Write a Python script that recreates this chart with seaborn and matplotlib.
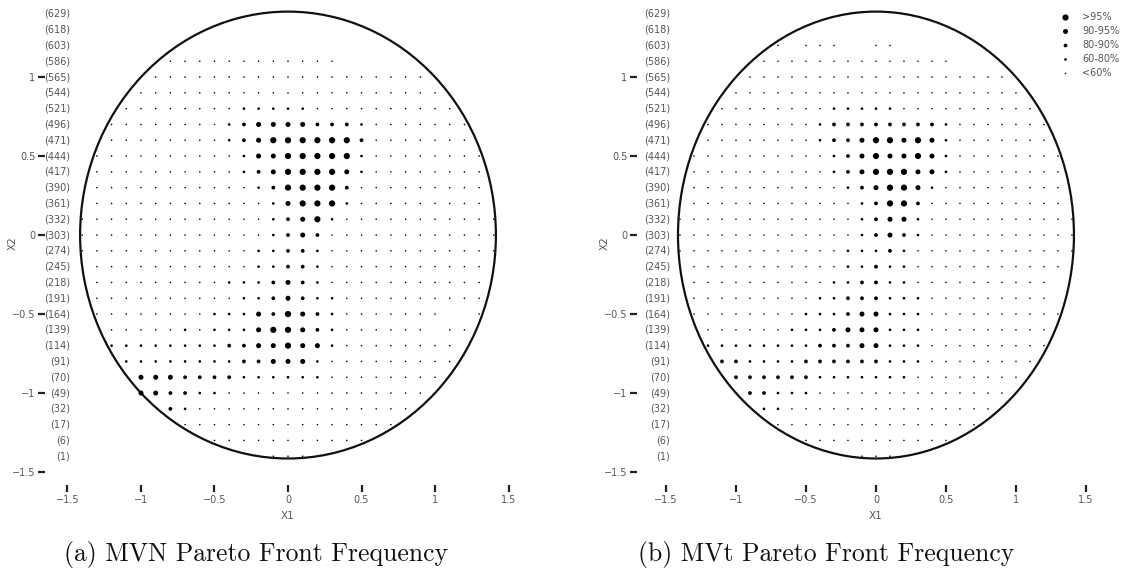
import numpy as np
import pandas as pd
import matplotlib
matplotlib.use("Agg")
import matplotlib.pyplot as plt
import seaborn as sns
from matplotlib.patches import Circle
from matplotlib.lines import Line2D

sns.set_theme(style="white")
plt.rcParams["font.family"] = ["DejaVu Sans"]
plt.rcParams["axes.unicode_minus"] = True

# grid of candidate points (step 0.1) inside the circle x1^2 + x2^2 <= 2
X1_GRID = [-1.4, -1.3, -1.2, -1.1, -1.0, -0.9, -0.8, -0.7, -0.6, -0.5,
           -0.4, -0.3, -0.2, -0.1, 0.0, 0.1, 0.2, 0.3, 0.4, 0.5,
           0.6, 0.7, 0.8, 0.9, 1.0, 1.1, 1.2, 1.3, 1.4]
X2_ROWS = [1.4, 1.3, 1.2, 1.1, 1.0, 0.9, 0.8, 0.7, 0.6, 0.5,
           0.4, 0.3, 0.2, 0.1, 0.0, -0.1, -0.2, -0.3, -0.4, -0.5,
           -0.6, -0.7, -0.8, -0.9, -1.0, -1.1, -1.2, -1.3, -1.4]
# index of the first grid point in each row (row labels)
ROW_START = [629, 618, 603, 586, 565, 544, 521, 496, 471, 444, 417, 390, 361,
             332, 303, 274, 245, 218, 191, 164, 139, 114, 91, 70, 49, 32, 17,
             6, 1]

# frequency classes, code 1..5 ('.' = never on the front)
LEVELS = ["<60%", "60-80%", "80-90%", "90-95%", ">95%"]

# each row: x1 = -1.4 ... -0.1 | 0 | 0.1 ... 1.4
MVN_ROWS = [
    ".............." "." "..............",
    ".............." "." "..............",
    ".............." "." "..............",
    "......11111111" "1" "111...........",
    ".....111111111" "1" "111111111.....",
    "....1111111111" "1" "1111111111....",
    "...11111111222" "2" "21111111111...",
    "..111111112344" "4" "433321111111..",
    "..111111112345" "5" "555531111111..",
    ".1111111111244" "5" "5555211111111.",
    ".1111111111234" "5" "5554211111111.",
    ".1111111111123" "5" "5553111111111.",
    ".1111111111112" "4" "5552111111111.",
    "11111111111112" "3" "45211111111111",
    "11111111111112" "3" "43111111111111",
    "11111111111122" "3" "32111111111111",
    ".1111111111122" "3" "3211111111111.",
    ".1111111112223" "4" "3211111111111.",
    ".1111111111223" "4" "3221111111111.",
    ".1111111122243" "5" "4321111111..1.",
    "..111112122245" "5" "432111111.11..",
    "..222222223344" "5" "44211111111...",
    "...22222222334" "4" "42111111111...",
    "....4443333222" "2" "2211111111....",
    "....4433221111" "1" "111111111.....",
    "......32111111" "1" "11111111......",
    ".......1111111" "1" "1111111.......",
    ".........11111" "1" "11111.........",
    ".............1" "1" "1.............",
]

MVT_ROWS = [
    ".............." "." "..............",
    ".............." "." "..............",
    ".......1.111.." "1" "1.............",
    "......11111111" "1" "11111.........",
    ".....111111111" "1" "111111111.....",
    "....1111111111" "1" "1111111111....",
    "...11111111222" "2" "21111111111...",
    "..111111112333" "3" "333321111111..",
    "..111111112334" "5" "545421111111..",
    ".1111111111234" "5" "4454211111111.",
    ".1111111111234" "5" "5544211111111.",
    ".1111111111123" "4" "5542111111111.",
    ".1111111111112" "3" "5531111111111.",
    "11111111111112" "3" "44211111111111",
    "11111111111112" "3" "43211111111111",
    "11111111111122" "2" "32111111111111",
    ".1111111111122" "3" "2211111111111.",
    ".1111111111223" "3" "221111111111..",
    ".1111111112233" "3" "222111111111..",
    ".1111111122234" "4" "2221111111111.",
    "..111111222344" "4" "222111111111..",
    "..222222223334" "4" "222111111111..",
    "...33222233333" "3" "22211111111...",
    "....3333332222" "2" "2211111111....",
    "....1332221111" "1" "111111111.....",
    "......22111111" "1" "11111111......",
    ".......1111111" "1" "1111111.......",
    ".........11111" "1" "11111.........",
    ".............1" "1" "1.............",
]

SIZES = {">95%": 20.0, "90-95%": 13.0, "80-90%": 7.5, "60-80%": 3.6, "<60%": 1.3}


def to_frame(rows):
    bad = [k for k, r in enumerate(rows) if len(r) != len(X1_GRID)]
    if bad:
        raise ValueError(f"rows with wrong length: {bad}")
    recs = []
    for x2, row in zip(X2_ROWS, rows):
        for x1, c in zip(X1_GRID, row):
            if c != ".":
                recs.append((x1, x2, LEVELS[int(c) - 1]))
    return pd.DataFrame(recs, columns=["X1", "X2", "freq"])


W, H = 1138, 572
fig = plt.figure(figsize=(W / 100, H / 100), dpi=100)

PANELS = [
    # (rows, left px, right px, x-range, row-label right edge px, caption, caption centre px)
    (MVN_ROWS, 45, 531, (-1.653, 1.653), 70, "(a) MVN Pareto Front Frequency", 256),
    (MVT_ROWS, 637, 1112, (-1.707, 1.686), 670, "(b) MVt Pareto Front Frequency", 826),
]
TOP_PX, BOT_PX = 5, 485
YLIM = (-1.582, 1.456)
TICK_COL = "#555555"

for i, (rows, lpx, rpx, xlim, lab_px, caption, cap_px) in enumerate(PANELS):
    ax = fig.add_axes([lpx / W, 1 - BOT_PX / H, (rpx - lpx) / W, (BOT_PX - TOP_PX) / H])
    df = to_frame(rows)
    sns.scatterplot(data=df, x="X1", y="X2", size="freq", sizes=SIZES,
                    size_order=LEVELS[::-1], color="black", linewidth=0,
                    legend=False, ax=ax, zorder=3)
    ax.add_patch(Circle((0, 0), np.sqrt(2), fill=False, lw=1.6,
                        edgecolor="#111111", zorder=2))
    ax.set_xlim(*xlim)
    ax.set_ylim(*YLIM)
    for sp in ax.spines.values():
        sp.set_visible(False)
    ax.set_xticks([-1.5, -1, -0.5, 0, 0.5, 1, 1.5])
    ax.set_xticklabels(["\u22121.5", "\u22121", "\u22120.5", "0", "0.5", "1", "1.5"])
    ax.set_yticks([-1.5, -1, -0.5, 0, 0.5, 1])
    ax.set_yticklabels(["\u22121.5", "\u22121", "\u22120.5", "0", "0.5", "1"])
    ax.tick_params(axis="both", direction="out", length=5, width=1.6,
                   color="#222222", labelsize=7, labelcolor=TICK_COL, pad=2,
                   bottom=True, left=True)
    ax.set_xlabel("")
    ax.set_ylabel("")
    # row labels: index of first point of each row
    frac = (lab_px - lpx) / (rpx - lpx)
    for y, n in zip(X2_ROWS, ROW_START):
        ax.text(frac, y, f"({n})", transform=ax.get_yaxis_transform(),
                ha="right", va="center", fontsize=7, color=TICK_COL)
    x0 = lpx + (0 - xlim[0]) / (xlim[1] - xlim[0]) * (rpx - lpx)
    fig.text(x0 / W, 1 - 516 / H, "X1", ha="center", va="center",
             fontsize=7.5, color=TICK_COL)
    fig.text((lpx - 32) / W, 1 - 243 / H, "X2", ha="center", va="center",
             rotation=90, fontsize=7.5, color=TICK_COL)
    fig.text(cap_px / W, 1 - 555 / H, caption, ha="center", va="center",
             fontsize=18.5, family="cmr10", color="#111111")

    if i == 1:
        handles = [Line2D([], [], marker="o", ls="", color="black",
                          markeredgewidth=0, markersize=np.sqrt(SIZES[k]))
                   for k in LEVELS[::-1]]
        ax.legend(handles, LEVELS[::-1], loc="upper left",
                  bbox_to_anchor=(1060 / W, 1 - 12 / H),
                  bbox_transform=fig.transFigure, frameon=False, fontsize=7,
                  labelcolor=TICK_COL, handlelength=1.0, handletextpad=1.3,
                  labelspacing=0.42, borderaxespad=0.0, borderpad=0.0)

fig.savefig("out.png", dpi=100)
